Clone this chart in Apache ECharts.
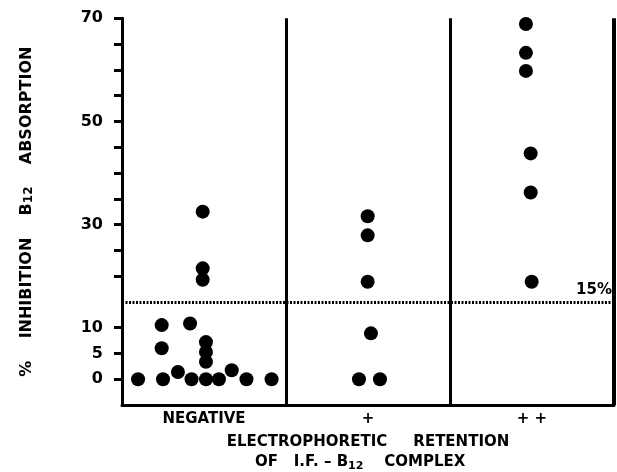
<!DOCTYPE html>
<html>
<head>
<meta charset="utf-8">
<script src="https://cdn.jsdelivr.net/npm/echarts@6/dist/echarts.min.js"></script>
<style>html,body{margin:0;padding:0;background:#fff;}#c{width:617px;height:472px;}</style>
</head>
<body>
<div id="c"></div>
<script>
// Categories along x (group centres at 0.5, 1.5, 2.5 on the x scale)
const categories = ['NEGATIVE', '+', '+ +'];
const categoryCenters = [0.5, 1.5, 2.5];
const groupBounds = [1, 2, 3];

// Points: x = horizontal placement within group (axis units), y = % inhibition
const negX = [0.098, 0.25, 0.424, 0.512, 0.591, 0.759, 0.912, 0.341, 0.669, 0.512, 0.512, 0.512, 0.242, 0.242, 0.415, 0.492, 0.492, 0.492];
const negY = [0, 0, 0, 0, 0, 0, 0, 1.4, 1.75, 3.4, 5.3, 7.2, 6.0, 10.5, 10.8, 32.5, 21.5, 19.3];
const plusX = [1.498, 1.498, 1.498, 1.518, 1.445, 1.573];
const plusY = [31.6, 27.9, 18.9, 8.9, 0, 0];
const ppX = [2.463, 2.463, 2.463, 2.492, 2.492, 2.498];
const ppY = [68.9, 63.3, 59.8, 43.8, 36.2, 18.9];

// Axis ticks / labels
const yTicks = [0, 5, 10, 20, 25, 30, 35, 40, 45, 50, 55, 60, 65, 70];
const yLabels = [0, 5, 10, 30, 50, 70];
const threshold = 15;
const thresholdLabel = '15%';

const FONT = 'DejaVu Sans';
const pairs = (xs, ys) => xs.map((x, i) => [x, ys[i]]);

const chart = echarts.init(document.getElementById('c'), null, {renderer: 'canvas'});
const dotStyle = {color: '#000', opacity: 1};

chart.setOption({
  animation: false,
  backgroundColor: '#fff',
  grid: {left: 122, right: 3, top: 18.3, bottom: 67, containLabel: false, outerBoundsMode: 'none'},
  xAxis: {
    type: 'value', min: 0, max: 3,
    splitLine: {show: false},
    axisLine: {show: true, onZero: false, lineStyle: {color: '#000', width: 3}},
    axisTick: {show: false},
    axisLabel: {
      customValues: categoryCenters,
      formatter: v => categories[Math.round(v - 0.5)],
      color: '#000', fontFamily: FONT, fontWeight: 'bold', fontSize: 15, margin: 7
    },
    name: 'ELECTROPHORETIC     RETENTION\nOF   I.F. – B{s|12}    COMPLEX   ',
    nameLocation: 'middle', nameGap: 27,
    nameTextStyle: {
      color: '#000', fontFamily: FONT, fontWeight: 'bold', fontSize: 15, lineHeight: 20,
      rich: {s: {fontFamily: FONT, fontWeight: 'bold', fontSize: 11, color: '#000', verticalAlign: 'bottom'}}
    }
  },
  yAxis: {
    type: 'value', min: -5, max: 70, interval: 5,
    splitLine: {show: false},
    axisLine: {show: true, lineStyle: {color: '#000', width: 3}},
    axisTick: {show: true, customValues: yTicks, length: 8, lineStyle: {color: '#000', width: 3}},
    axisLabel: {customValues: yLabels, color: '#000', fontFamily: FONT, fontWeight: 'bold', fontSize: 16, margin: 19},
    name: '%    INHIBITION    B{s|12}    ABSORPTION',
    nameLocation: 'middle', nameGap: 87,
    nameTextStyle: {
      color: '#000', fontFamily: FONT, fontWeight: 'bold', fontSize: 16,
      rich: {s: {fontFamily: FONT, fontWeight: 'bold', fontSize: 12, color: '#000', verticalAlign: 'bottom'}}
    }
  },
  series: [
    {type: 'scatter', name: categories[0], data: pairs(negX, negY), symbolSize: 14, itemStyle: dotStyle, z: 5},
    {type: 'scatter', name: categories[1], data: pairs(plusX, plusY), symbolSize: 14, itemStyle: dotStyle, z: 5},
    {type: 'scatter', name: categories[2], data: pairs(ppX, ppY), symbolSize: 14, itemStyle: dotStyle, z: 5,
      markLine: {
        silent: true, symbol: 'none', animation: false,
        data: [
          [{coord: [0, threshold], lineStyle: {type: [2, 1.5], width: 3, color: '#000'},
            label: {show: true, formatter: thresholdLabel, position: 'insideEndTop', distance: [2, 4],
              color: '#000', fontFamily: FONT, fontWeight: 'bold', fontSize: 15}},
           {coord: [3, threshold]}],
          ...groupBounds.map((b, i) => [
            {coord: [b, -5], lineStyle: {type: 'solid', width: i === 2 ? 4 : 3, color: '#000'}, label: {show: false}},
            {coord: [b, 70]}
          ])
        ]
      }
    }
  ]
});
</script>
</body>
</html>
